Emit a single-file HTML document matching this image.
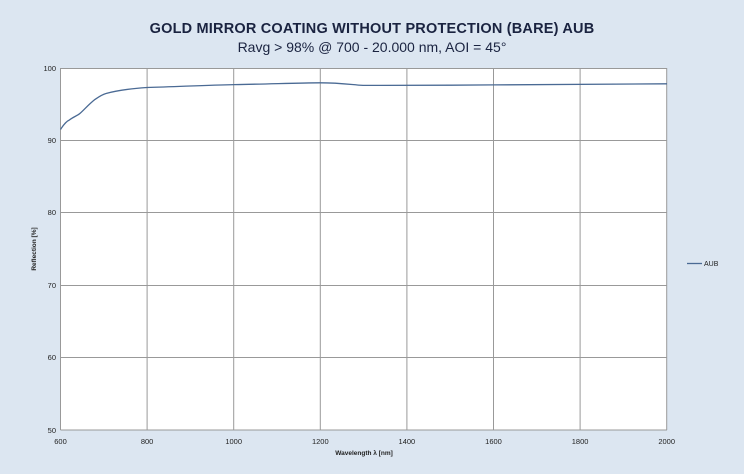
<!DOCTYPE html>
<html><head><meta charset="utf-8"><style>
body{margin:0;background:#dce6f1;}
svg{display:block;font-family:"Liberation Sans",sans-serif;}
</style></head><body>
<svg width="744" height="474" viewBox="0 0 744 474">
<rect width="744" height="474" fill="#dce6f1"/>
<text x="372" y="33" text-anchor="middle" font-size="14.5" font-weight="bold" fill="#1a2340" letter-spacing="0.2">GOLD MIRROR COATING WITHOUT PROTECTION (BARE) AUB</text>
<text x="372" y="52" text-anchor="middle" font-size="14" fill="#1a2340">Ravg &gt; 98% @ 700 - 20.000 nm, AOI = 45°</text>
<rect x="60.5" y="68" width="606.5" height="362" fill="#fff"/>
<g stroke="#999" stroke-width="1">
<line x1="147.1" y1="68" x2="147.1" y2="430"/><line x1="233.7" y1="68" x2="233.7" y2="430"/>
<line x1="320.3" y1="68" x2="320.3" y2="430"/><line x1="406.9" y1="68" x2="406.9" y2="430"/>
<line x1="493.5" y1="68" x2="493.5" y2="430"/><line x1="580.1" y1="68" x2="580.1" y2="430"/>
<line x1="666.7" y1="68" x2="666.7" y2="430"/>
<line x1="60.5" y1="68.5" x2="667" y2="68.5"/><line x1="60.5" y1="140.5" x2="667" y2="140.5"/>
<line x1="60.5" y1="212.5" x2="667" y2="212.5"/><line x1="60.5" y1="285.5" x2="667" y2="285.5"/>
<line x1="60.5" y1="357.5" x2="667" y2="357.5"/>
<line x1="60.5" y1="68" x2="60.5" y2="430"/><line x1="60.5" y1="430" x2="667" y2="430"/>
</g>
<g fill="#222" font-size="7.5">
<text x="56" y="71" text-anchor="end">100</text><text x="56" y="143" text-anchor="end">90</text>
<text x="56" y="215" text-anchor="end">80</text><text x="56" y="288" text-anchor="end">70</text>
<text x="56" y="360" text-anchor="end">60</text><text x="56" y="433" text-anchor="end">50</text>
<text x="60.5" y="444" text-anchor="middle">600</text><text x="147.1" y="444" text-anchor="middle">800</text>
<text x="233.7" y="444" text-anchor="middle">1000</text><text x="320.3" y="444" text-anchor="middle">1200</text>
<text x="406.9" y="444" text-anchor="middle">1400</text><text x="493.5" y="444" text-anchor="middle">1600</text>
<text x="580.1" y="444" text-anchor="middle">1800</text><text x="666.7" y="444" text-anchor="middle">2000</text>
<text x="364" y="455" text-anchor="middle" font-weight="bold" font-size="6.5">Wavelength λ [nm]</text>
<text transform="translate(36,249) rotate(-90)" text-anchor="middle" font-weight="bold" font-size="6.5">Reflection [%]</text>
<text x="704" y="266" font-size="7">AUB</text>
</g>
<line x1="687" y1="263.5" x2="702" y2="263.5" stroke="#4a6a94" stroke-width="1.3"/>
<path d="M60.5,129.5 C64,124 67,121 69.2,120.1 C73,117 77,116 80,113.4 C85,109 88,105 95,99.4 C100,96 104,94 106,93.5 C115,91 125,89 147,87.5 C180,86.5 210,85 234,84.6 C270,84 300,82.8 320,82.8 C340,82.8 350,84.5 363,85.4 C400,85.6 450,85.2 494,84.9 C560,84.4 620,84.0 667,83.8" fill="none" stroke="#4a6a94" stroke-width="1.3"/>
</svg>
</body></html>
